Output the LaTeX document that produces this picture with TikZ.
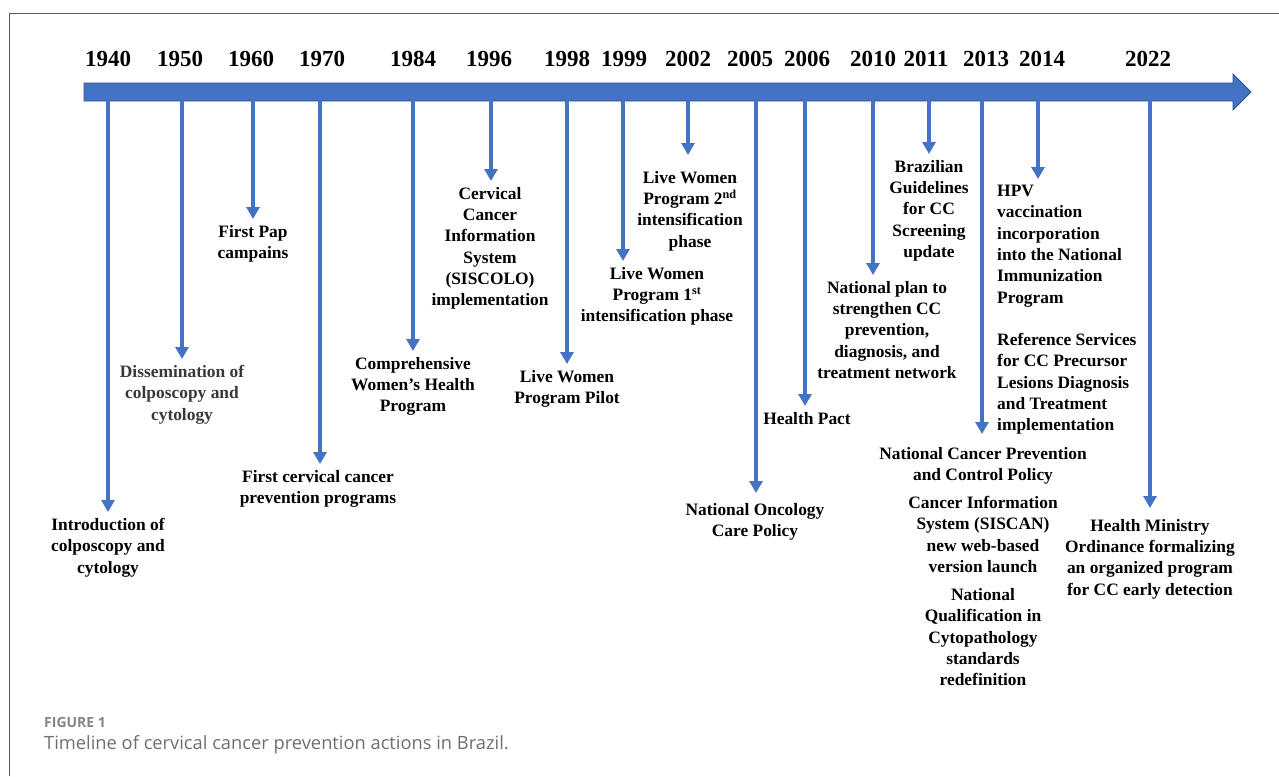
\documentclass[tikz,border=0pt]{standalone}
\usepackage{fontspec}
\setmainfont{Liberation Serif}
\newfontfamily\capfont{Open Sans}
\usetikzlibrary{arrows.meta}
\definecolor{tlblue}{HTML}{4472C4}
\definecolor{tledge}{HTML}{2F528F}
\definecolor{capgray}{HTML}{6E6E6E}
\tikzset{
  year/.style={font=\bfseries\fontsize{23}{26}\selectfont},
  ev/.style={anchor=north,align=center,inner xsep=1pt,inner ysep=6pt,font=\bfseries\fontsize{17.4}{21.3}\selectfont},
  evarrow/.style={draw=tlblue,line width=4pt,-{Triangle[width=13pt,length=12pt]}}
}
\begin{document}
\begin{tikzpicture}[x=1pt,y=-1pt]
\useasboundingbox (0,0) rectangle (1279,776);
% frame
\draw[gray!70!black,line width=0.8pt] (9,776) -- (9,13) -- (1279,13);
% time axis
\filldraw[fill=tlblue,draw=tledge,line width=0.8pt] (84,83) -- (1233,83) -- (1233,74) -- (1251,92)
      -- (1233,110) -- (1233,101) -- (84,101) -- cycle;
% years
\node[year] (y1940) at (108,59) {1940};
\node[year] (y1950) at (180,59) {1950};
\node[year] (y1960) at (251,59) {1960};
\node[year] (y1970) at (322,59) {1970};
\node[year] (y1984) at (413,59) {1984};
\node[year] (y1996) at (489,59) {1996};
\node[year] (y1998) at (567,59) {1998};
\node[year] (y1999) at (624,59) {1999};
\node[year] (y2002) at (688,59) {2002};
\node[year] (y2005) at (750,59) {2005};
\node[year] (y2006) at (807,59) {2006};
\node[year] (y2010) at (873,59) {2010};
\node[year] (y2011) at (926,59) {2011};
\node[year] (y2013) at (986,59) {2013};
\node[year] (y2014) at (1042,59) {2014};
\node[year] (y2022) at (1148,59) {2022};
% ticks on the axis
\coordinate (t1940) at (108,99);
\coordinate (t1950) at (182,99);
\coordinate (t1960) at (253,99);
\coordinate (t1970) at (320,99);
\coordinate (t1984) at (413,99);
\coordinate (t1996) at (491,99);
\coordinate (t1998) at (567,99);
\coordinate (t1999) at (623,99);
\coordinate (t2002) at (688,99);
\coordinate (t2005) at (756,99);
\coordinate (t2006) at (805,99);
\coordinate (t2010) at (873,99);
\coordinate (t2011) at (929,99);
\coordinate (t2013) at (982,99);
\coordinate (t2014) at (1038,99);
\coordinate (t2022) at (1150,99);
% events
\node[ev] (e1940) at (108,512) {Introduction of\\colposcopy and\\cytology};
\node[ev,text=black!78] (e1950) at (182,359) {Dissemination of\\colposcopy and\\cytology};
\node[ev] (e1960) at (253,219) {First Pap\\campains};
\node[ev] (e1970) at (318,464) {First cervical cancer\\prevention programs};
\node[ev] (e1984) at (413,351) {Comprehensive\\Women's Health\\Program};
\node[ev] (e1996) at (490,181) {Cervical\\Cancer\\Information\\System\\(SISCOLO)\\implementation};
\node[ev] (e1998) at (567,364) {Live Women\\Program Pilot};
\node[ev] (e1999) at (657,261) {Live Women\\Program 1\textsuperscript{st}\\intensification phase};
\node[ev] (e2002) at (690,165) {Live Women\\Program 2\textsuperscript{nd}\\intensification\\phase};
\node[ev] (e2005) at (755,497) {National Oncology\\Care Policy};
\node[ev] (e2006) at (807,406) {Health Pact};
\node[ev] (e2010) at (887,275) {National plan to\\strengthen CC\\prevention,\\diagnosis, and\\treatment network};
\node[ev] (e2011) at (929,154) {Brazilian\\Guidelines\\for CC\\Screening\\update};
\node[ev] (e2013) at (983,441) {National Cancer Prevention\\and Control Policy\\[6.7pt]Cancer Information\\System (SISCAN)\\new web-based\\version launch\\[6.7pt]National\\Qualification in\\Cytopathology\\standards\\redefinition};
\node[ev,anchor=north west,align=left] (e2014) at (996,179) {HPV\\vaccination\\incorporation\\into the National\\Immunization\\Program\\[21.3pt]Reference Services\\for CC Precursor\\Lesions Diagnosis\\and Treatment\\implementation};
\node[ev] (e2022) at (1150,513) {Health Ministry\\Ordinance formalizing\\an organized program\\for CC early detection};
% arrows
\draw[evarrow] (t1940) -- (t1940 |- e1940.north);
\draw[evarrow] (t1950) -- (t1950 |- e1950.north);
\draw[evarrow] (t1960) -- (t1960 |- e1960.north);
\draw[evarrow] (t1970) -- (t1970 |- e1970.north);
\draw[evarrow] (t1984) -- (t1984 |- e1984.north);
\draw[evarrow] (t1996) -- (t1996 |- e1996.north);
\draw[evarrow] (t1998) -- (t1998 |- e1998.north);
\draw[evarrow] (t1999) -- (t1999 |- e1999.north);
\draw[evarrow,shorten >=10pt] (t2002) -- (t2002 |- e2002.north);
\draw[evarrow,shorten >=4pt] (t2005) -- (t2005 |- e2005.north);
\draw[evarrow] (t2006) -- (t2006 |- e2006.north);
\draw[evarrow] (t2010) -- (t2010 |- e2010.north);
\draw[evarrow] (t2011) -- (t2011 |- e2011.north);
\draw[evarrow,shorten >=7pt] (t2013) -- (t2013 |- e2013.north);
\draw[evarrow] (t2014) -- (t2014 |- e2014.north);
\draw[evarrow,shorten >=5pt] (t2022) -- (t2022 |- e2022.north);
% caption
\node[anchor=west,inner sep=0pt,text=capgray!85,font=\capfont\bfseries\fontsize{14}{16}\selectfont] (fig) at (44,722) {FIGURE 1};
\node[anchor=west,inner sep=0pt,text=capgray,font=\capfont\fontsize{18.3}{21}\selectfont] (cap) at (44,745) {Timeline of cervical cancer prevention actions in Brazil.};
\end{tikzpicture}
\end{document}
